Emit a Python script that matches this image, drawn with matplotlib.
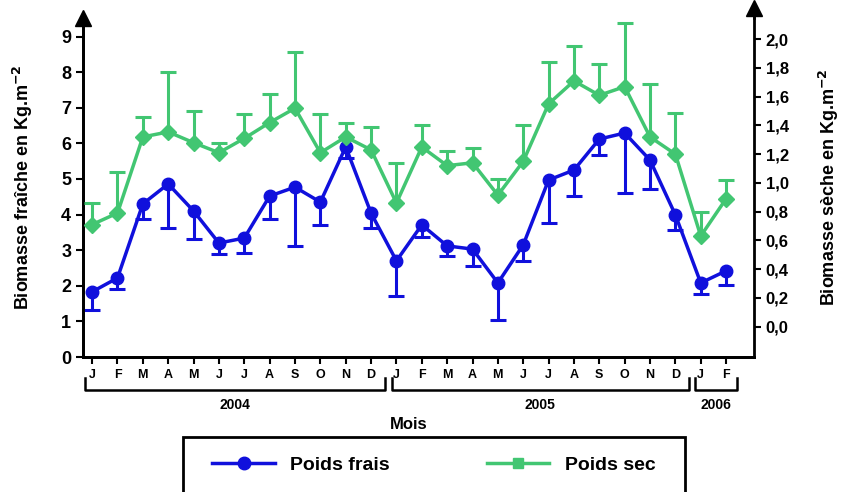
import matplotlib
matplotlib.use('Agg')
import matplotlib.pyplot as plt
import matplotlib.transforms as mtransforms
from matplotlib.lines import Line2D
from matplotlib.patches import Rectangle
import numpy as np

plt.rcParams['font.family'] = ['Liberation Sans', 'DejaVu Sans']
plt.rcParams['font.weight'] = 'bold'

months = ['J', 'F', 'M', 'A', 'M', 'J', 'J', 'A', 'S', 'O', 'N', 'D',
          'J', 'F', 'M', 'A', 'M', 'J', 'J', 'A', 'S', 'O', 'N', 'D',
          'J', 'F']
years = ['2004', '2005', '2006']

# poids frais (Kg.m-2), left axis, error bar drawn downward
frais = [1.83, 2.22, 4.30, 4.86, 4.10, 3.20, 3.34, 4.52, 4.77, 4.35, 5.90, 4.04,
         2.70, 3.71, 3.12, 3.03, 2.08, 3.15, 4.97, 5.25, 6.12, 6.29, 5.53, 3.99,
         2.08, 2.42]
frais_low = [1.32, 1.91, 3.88, 3.62, 3.31, 2.89, 2.92, 3.88, 3.12, 3.71, 5.60, 3.62,
             1.71, 3.37, 2.84, 2.56, 1.04, 2.70, 3.76, 4.53, 5.67, 4.60, 4.72, 3.57,
             1.77, 2.02]

# poids sec (Kg.m-2), right axis, error bar drawn upward
sec = [0.71, 0.79, 1.32, 1.355, 1.28, 1.21, 1.31, 1.42, 1.52, 1.21, 1.32, 1.23,
       0.86, 1.25, 1.12, 1.14, 0.915, 1.15, 1.55, 1.71, 1.61, 1.67, 1.32, 1.20,
       0.63, 0.89]
sec_high = [0.86, 1.075, 1.46, 1.77, 1.50, 1.28, 1.48, 1.62, 1.91, 1.48, 1.42, 1.39,
            1.14, 1.40, 1.22, 1.24, 1.03, 1.40, 1.84, 1.95, 1.83, 2.11, 1.69, 1.49,
            0.80, 1.02]

blue = '#1010dc'
green = '#42c672'

x = np.arange(len(months))

fig = plt.figure(figsize=(8.45, 4.92), dpi=100)
ax = fig.add_axes([83 / 845, 1 - 357 / 492, (754 - 83) / 845, (357 - 18) / 492])
ax2 = ax.twinx()

# blue series
ax.vlines(x, frais_low, frais, color=blue, lw=2.2, zorder=3)
ax.plot(x, frais_low, ls='none', marker='_', ms=12, mew=2.2, color=blue, zorder=3)
ax.plot(x, frais, color=blue, lw=2.5, marker='o', ms=9, zorder=4)

# green series
ax2.vlines(x, sec, sec_high, color=green, lw=2.2, zorder=3)
ax2.plot(x, sec_high, ls='none', marker='_', ms=12, mew=2.2, color=green, zorder=3)
ax2.plot(x, sec, color=green, lw=2.5, marker='D', ms=8, zorder=4)

ax.set_xlim(-0.36, 26.1)
ax.set_ylim(0, 9.52)
ax2.set_ylim(-0.212, 2.148)

ax.set_yticks(range(10))
ax.set_yticklabels([str(i) for i in range(10)], fontsize=13, fontweight='bold')
rt = np.round(np.arange(0, 2.01, 0.2), 1)
ax2.set_yticks(rt)
ax2.set_yticklabels([f'{v:.1f}'.replace('.', ',') for v in rt], fontsize=12, fontweight='bold')

ax.set_xticks(x)
ax.set_xticklabels(months, fontsize=9, fontweight='bold')
ax.tick_params(axis='x', length=5, width=1.5, pad=4)
ax.tick_params(axis='y', length=5, width=1.5)
ax2.tick_params(axis='y', length=5, width=1.5)

for a in (ax, ax2):
    a.spines['top'].set_visible(False)
    for s in ('left', 'right', 'bottom'):
        a.spines[s].set_linewidth(2)
ax.spines['right'].set_visible(False)

# arrow heads on the vertical axes
ax.plot(0, 1.0, marker='^', ms=11, color='black', transform=ax.transAxes, clip_on=False)
ax2.plot(1, 1.03, marker='^', ms=11, color='black', transform=ax2.transAxes, clip_on=False)
ax2.plot([1, 1], [1.0, 1.03], color='black', lw=2, transform=ax2.transAxes, clip_on=False)

ax.set_ylabel('Biomasse fraîche en Kg.m$^{\\mathbf{-2}}$', fontsize=13, fontweight='bold', labelpad=19)
ax2.set_ylabel('Biomasse sèche en Kg.m$^{\\mathbf{-2}}$', fontsize=13, fontweight='bold',
               rotation=90, labelpad=20)

# year brackets
trans = mtransforms.blended_transform_factory(ax.transData, ax.transAxes)
spans = [(-0.28, 11.53), (11.81, 23.54), (23.78, 25.43)]
for (a0, a1), yr in zip(spans, years):
    ax.plot([a0, a0, a1, a1], [-0.062, -0.097, -0.097, -0.062], color='black', lw=1.8,
            transform=trans, clip_on=False)
    ax.text((a0 + a1) / 2, -0.142, yr, transform=trans, ha='center', va='center',
            fontsize=10, fontweight='bold')

ax.text(12.48, -0.198, 'Mois', transform=trans, ha='center', va='center',
        fontsize=12, fontweight='bold')

# legend box
fig.patches.append(Rectangle((183 / 845, -0.05), (685 - 183) / 845, 1 - 437 / 492 + 0.05,
                             transform=fig.transFigure, fill=False, lw=2, ec='black'))
handles = [Line2D([], [], color=blue, lw=2.5, marker='o', ms=9),
           Line2D([], [], color=green, lw=2.5, marker='s', ms=7)]
fig.legend(handles, ['Poids frais', 'Poids sec'], loc='center', ncol=2, frameon=False,
           bbox_to_anchor=(434 / 845, 1 - 465 / 492), handlelength=3.2, columnspacing=5,
           prop={'size': 14, 'weight': 'bold'})

fig.savefig('out.png', dpi=100)
